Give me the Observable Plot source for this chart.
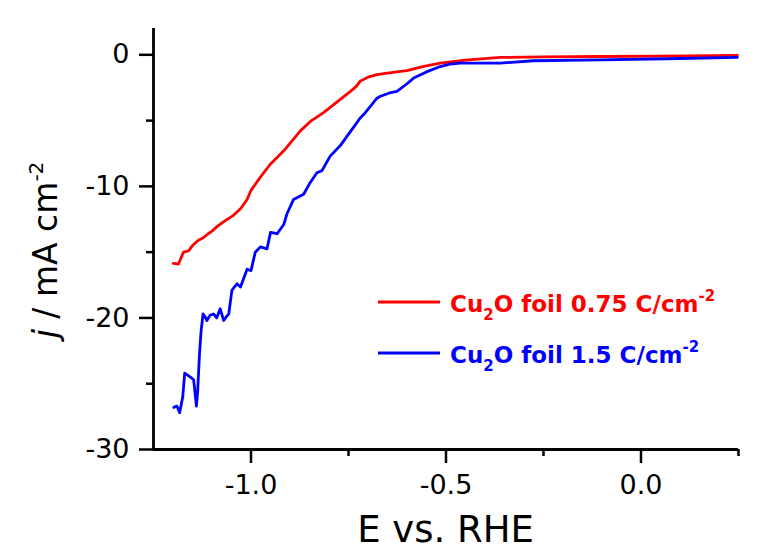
<!DOCTYPE html>
<html><head><meta charset="utf-8">
<script src="https://cdn.jsdelivr.net/npm/d3@7"></script>
<script src="https://cdn.jsdelivr.net/npm/@observablehq/plot@0.6"></script>
<style>body{margin:0;background:#fff} svg{display:block}</style>
</head><body><div id="chart"></div>
<script>
// Series: Cu2O foil 0.75 C/cm-2 (red)
const redE = [-1.199,-1.186,-1.173,-1.16,-1.15,-1.135,-1.122,-1.11,-1.10,-1.085,-1.066,-1.045,-1.027,-1.01,-1.0,-0.976,-0.95,-0.916,-0.874,-0.845,-0.814,-0.78,-0.745,-0.73,-0.72,-0.70,-0.677,-0.65,-0.617,-0.60,-0.56,-0.515,-0.45,-0.361,-0.25,-0.104,0.05,0.247];
const redJ = [-15.86,-15.9,-15.0,-14.9,-14.5,-14.1,-13.9,-13.6,-13.4,-13.0,-12.6,-12.2,-11.7,-11.0,-10.3,-9.3,-8.3,-7.3,-5.8,-5.0,-4.4,-3.6,-2.78,-2.4,-2.0,-1.7,-1.5,-1.4,-1.26,-1.2,-0.9,-0.63,-0.4,-0.2,-0.15,-0.13,-0.1,-0.05];
// Series: Cu2O foil 1.5 C/cm-2 (blue)
const blueE = [-1.198,-1.19,-1.183,-1.175,-1.17,-1.16,-1.151,-1.147,-1.14,-1.137,-1.132,-1.128,-1.123,-1.118,-1.113,-1.105,-1.096,-1.088,-1.079,-1.07,-1.063,-1.057,-1.049,-1.036,-1.027,-1.01,-1.0,-0.989,-0.976,-0.959,-0.95,-0.933,-0.916,-0.908,-0.891,-0.865,-0.848,-0.831,-0.818,-0.797,-0.771,-0.754,-0.741,-0.72,-0.711,-0.677,-0.668,-0.645,-0.626,-0.60,-0.583,-0.55,-0.515,-0.49,-0.463,-0.361,-0.276,-0.104,0.067,0.247];
const blueJ = [-26.8,-26.7,-27.2,-26.0,-24.2,-24.4,-24.6,-24.7,-26.7,-25.7,-22.7,-21.0,-19.7,-19.9,-20.2,-19.8,-19.7,-20.0,-19.3,-20.2,-19.9,-19.7,-17.9,-17.4,-17.65,-16.3,-16.4,-15.0,-14.6,-14.75,-13.5,-13.6,-12.9,-12.1,-11.0,-10.6,-9.7,-8.96,-8.8,-7.7,-6.9,-6.2,-5.67,-4.8,-4.54,-3.3,-3.15,-2.9,-2.78,-2.2,-1.77,-1.3,-0.89,-0.7,-0.63,-0.63,-0.45,-0.38,-0.3,-0.2];

const seriesNames = ["Cu2O foil 0.75 C/cm-2", "Cu2O foil 1.5 C/cm-2"];
const seriesColors = ["#ff0000", "#0000ff"];
const xMajorTicks = [-1.0, -0.5, 0.0];
const xMinorTicks = [-0.75, -0.25, 0.25];
const yMajorTicks = [0, -10, -20, -30];
const yMinorTicks = [-5, -15, -25];
const xTitle = "E vs. RHE";

const data = [
  ...redE.map((e, i) => ({E: e, j: redJ[i], series: seriesNames[0]})),
  ...blueE.map((e, i) => ({E: e, j: blueJ[i], series: seriesNames[1]}))
];

const svgEl = Plot.plot({
  width: 762, height: 555,
  marginLeft: 153, marginRight: 24, marginTop: 28, marginBottom: 106,
  x: {domain: [-1.25, 0.25]},
  y: {domain: [-30, 2]},
  color: {domain: seriesNames, range: seriesColors},
  style: {fontFamily: "DejaVu Sans", background: "white", color: "black"},
  marks: [
    Plot.axisX(xMajorTicks, {tickSize: 14, tickPadding: 11, tickFormat: d => d.toFixed(1), fontSize: 27, strokeWidth: 2.5, label: null}),
    Plot.axisX(xMinorTicks, {tickSize: 7, tickFormat: () => "", strokeWidth: 2.5, label: null}),
    Plot.axisY(yMajorTicks, {tickSize: 14, tickPadding: 10, tickFormat: d => String(d), fontSize: 27, strokeWidth: 2.5, label: null}),
    Plot.axisY(yMinorTicks, {tickSize: 7, tickFormat: () => "", strokeWidth: 2.5, label: null}),
    Plot.line(data, {x: "E", y: "j", z: "series", stroke: "series", strokeWidth: 2.8}),
    Plot.ruleY([-30], {strokeWidth: 2.8}),
    Plot.ruleX([-1.25], {strokeWidth: 2.8})
  ]
});
document.getElementById("chart").appendChild(svgEl);

const svg = d3.select(svgEl);
// x title
svg.append("text").attr("x", 445.5).attr("y", 542).attr("text-anchor", "middle")
  .attr("font-family", "DejaVu Sans").attr("font-size", 37).attr("fill", "black").text(xTitle);
// y title
const yt = svg.append("text").attr("transform", "translate(57,250) rotate(-90)").attr("text-anchor", "middle")
  .attr("font-family", "DejaVu Sans").attr("font-size", 33).attr("fill", "black");
yt.append("tspan").attr("font-style", "italic").text("j");
yt.append("tspan").text(" / mA cm");
yt.append("tspan").attr("dy", -14).attr("font-size", 20).text("-2");

// legend
const legendItems = [
  {color: seriesColors[0], y: 302, value: "0.75"},
  {color: seriesColors[1], y: 353, value: "1.5"}
];
legendItems.forEach(it => {
  svg.append("line").attr("x1", 378).attr("x2", 440).attr("y1", it.y).attr("y2", it.y)
    .attr("stroke", it.color).attr("stroke-width", 2.8);
  const t = svg.append("text").attr("x", 450).attr("y", it.y + 10).attr("text-anchor", "start")
    .attr("font-family", "DejaVu Sans").attr("font-weight", "bold").attr("font-size", 23).attr("fill", it.color);
  t.append("tspan").text("Cu");
  t.append("tspan").attr("dy", 8).attr("font-size", 15).text("2");
  t.append("tspan").attr("dy", -8).text("O foil " + it.value + " C/cm");
  t.append("tspan").attr("dy", -11).attr("font-size", 15).text("-2");
});
</script>
</body></html>
